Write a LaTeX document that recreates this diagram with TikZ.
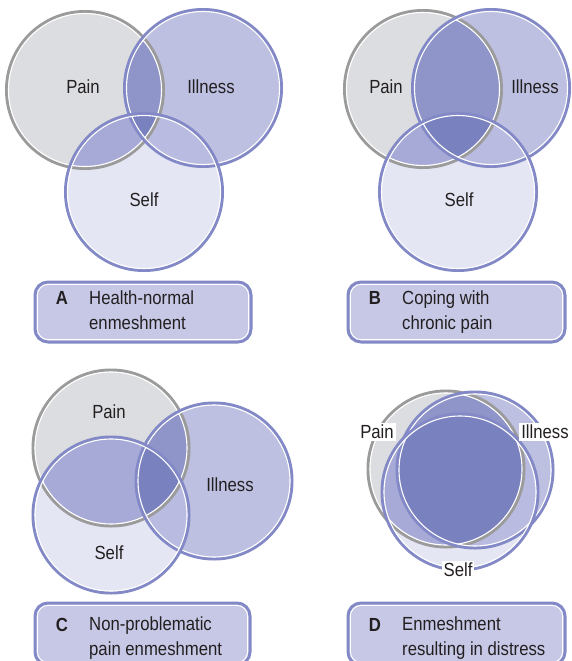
\documentclass[tikz,border=0pt]{standalone}
\usepackage{fontspec}
\setmainfont{Liberation Sans}[FakeStretch=0.88]
\usetikzlibrary{calc}
\definecolor{painfill}{HTML}{DCDDE0}
\definecolor{illfill}{HTML}{BEC0E1}
\definecolor{selffill}{HTML}{E4E6F4}
\definecolor{pifill}{HTML}{8F95C9}
\definecolor{psfill}{HTML}{A7AAD6}
\definecolor{isfill}{HTML}{B9BCE0}
\definecolor{pisfill}{HTML}{7A81BF}
\definecolor{grayline}{HTML}{9B9B9B}
\definecolor{purpleline}{HTML}{8289C6}
\definecolor{boxfill}{HTML}{C6C8E6}
\definecolor{ink}{HTML}{231F20}

% three overlapping circles: #1 pain, #2 illness, #3 self, #4 radius
\newcommand\VennFills[4]{%
  \fill[painfill] (#1) circle (#4);
  \fill[illfill] (#2) circle (#4);
  \fill[selffill] (#3) circle (#4);
  \begin{scope}\clip (#1) circle (#4); \fill[pifill] (#2) circle (#4);\end{scope}
  \begin{scope}\clip (#1) circle (#4); \fill[psfill] (#3) circle (#4);\end{scope}
  \begin{scope}\clip (#2) circle (#4); \fill[isfill] (#3) circle (#4);\end{scope}
  \begin{scope}\clip (#1) circle (#4); \clip (#2) circle (#4); \fill[pisfill] (#3) circle (#4);\end{scope}
}
% ring with a coloured outer band and a thin white inner line
\newcommand\VennRing[3]{%
  \draw[#1, line width=3pt] (#2) circle (#3+0.5);
  \draw[white, line width=1.1pt] (#2) circle (#3-1.5);
}
% rounded caption box between two corners
\newcommand\LabelBox[2]{%
  \draw[purpleline, line width=3pt, fill=boxfill, rounded corners=13pt] (#1) rectangle (#2);
  \draw[white, line width=1pt, rounded corners=11pt] ($(#1)+(2.3,2.3)$) rectangle ($(#2)+(-2.3,-2.3)$);
}

\begin{document}
\begin{tikzpicture}[x=1pt, y=-1pt,
  setlabel/.style={text=ink, font=\fontsize{19}{24}\selectfont, inner sep=0pt},
  cutlabel/.style={setlabel, fill=white, inner sep=2pt},
  boxletter/.style={text=ink, font=\fontsize{19}{24}\selectfont\bfseries, anchor=base, inner sep=0pt},
  boxtext/.style={text=ink, font=\fontsize{19}{24.5}\selectfont, anchor=base west, align=left, inner sep=0pt}]
\useasboundingbox (0,0) rectangle (571,661);
\fill[white] (0,0) rectangle (571,661);

% ---------- A ----------
\coordinate (aP) at (85,90);
\coordinate (aI) at (203,88);
\coordinate (aS) at (144,192);
\VennFills{aP}{aI}{aS}{78}
\VennRing{grayline}{aP}{78}
\VennRing{purpleline}{aI}{78}
\VennRing{purpleline}{aS}{78}
\node[setlabel] (aPain) at (83,87) {Pain};
\node[setlabel] (aIll) at (211,87) {Illness};
\node[setlabel] (aSelf) at (144,200) {Self};
\LabelBox{35,282}{251,342}
\node[boxletter] (aLet) at (62,304) {A};
\node[boxtext] (aText) at (89,329) {Health-normal\\enmeshment};

% ---------- B ----------
\coordinate (bP) at (423,89);
\coordinate (bI) at (491,88);
\coordinate (bS) at (458,192);
\VennFills{bP}{bI}{bS}{78}
\VennRing{grayline}{bP}{78}
\VennRing{purpleline}{bI}{78}
\VennRing{purpleline}{bS}{78}
\node[setlabel] (bPain) at (386,87) {Pain};
\node[setlabel] (bIll) at (535,87) {Illness};
\node[setlabel] (bSelf) at (459,200) {Self};
\LabelBox{348,282}{565,342}
\node[boxletter] (bLet) at (375,304) {B};
\node[boxtext] (bText) at (402,329) {Coping with\\chronic pain};

% ---------- C ----------
\coordinate (cP) at (111,448);
\coordinate (cI) at (214,481);
\coordinate (cS) at (111,515);
\VennFills{cP}{cI}{cS}{77.5}
\VennRing{grayline}{cP}{77.5}
\VennRing{purpleline}{cI}{77.5}
\VennRing{purpleline}{cS}{77.5}
\node[setlabel] (cPain) at (109,412) {Pain};
\node[setlabel] (cIll) at (230,485) {Illness};
\node[setlabel] (cSelf) at (109,553) {Self};
\LabelBox{35,603}{250,665}
\node[boxletter] (cLet) at (62,631) {C};
\node[boxtext] (cText) at (89,655) {Non-problematic\\pain enmeshment};

% ---------- D ----------
\coordinate (dP) at (446,469);
\coordinate (dI) at (475,470);
\coordinate (dS) at (460,492);
\VennFills{dP}{dI}{dS}{77.5}
\VennRing{grayline}{dP}{77.5}
\VennRing{purpleline}{dI}{77.5}
\VennRing{purpleline}{dS}{77.5}
\node[cutlabel] (dPain) at (377,432) {Pain};
\node[cutlabel] (dIll) at (545,432) {Illness};
\node[cutlabel] (dSelf) at (458,570) {Self};
\LabelBox{348,603}{565,665}
\node[boxletter] (dLet) at (375,631) {D};
\node[boxtext] (dText) at (402,655) {Enmeshment\\resulting in distress};
\end{tikzpicture}
\end{document}
